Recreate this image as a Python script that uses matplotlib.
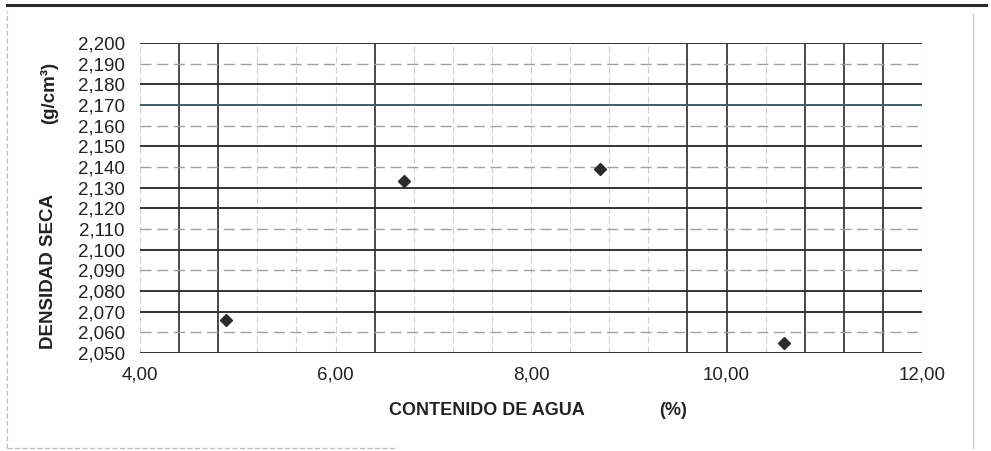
"""Curva de compactación: densidad seca vs contenido de agua."""

import matplotlib.pyplot as plt
import numpy as np
from matplotlib.lines import Line2D
from matplotlib.ticker import FuncFormatter, MultipleLocator

plt.rcParams["font.family"] = ["Liberation Sans", "DejaVu Sans"]

# Datos
contenido_agua = [4.88, 6.70, 8.71, 10.59]          # %
densidad_seca = [2.066, 2.133, 2.139, 2.055]         # g/cm³

x_ticks = [4.0, 6.0, 8.0, 10.0, 12.0]
y_min, y_max, y_step = 2.050, 2.200, 0.010
x_min, x_max, x_grid_step = 4.0, 12.0, 0.4

# líneas de rejilla que en el escaneo salen más marcadas
y_lineas_fuertes = [2.200, 2.180, 2.170, 2.150, 2.130, 2.120, 2.100, 2.080, 2.070, 2.050]
x_lineas_fuertes = [4.4, 4.8, 6.4, 9.6, 10.0, 10.8, 11.2, 11.6]


def coma(v, decimales):
    return f"{v:.{decimales}f}".replace(".", ",")


fig = plt.figure(figsize=(9.91, 4.51), dpi=100)
ax = fig.add_axes([0.1413, 0.2173, 0.7891, 0.6874])

ax.set_xlim(x_min, x_max)
ax.set_ylim(y_min, y_max)

# rejilla vertical cada 0,4
for xv in np.arange(x_min, x_max + 1e-9, x_grid_step):
    fuerte = any(abs(xv - f) < 1e-6 for f in x_lineas_fuertes)
    if fuerte:
        ax.axvline(xv, color="#3a3a3a", lw=1.3, zorder=1)
    else:
        ax.axvline(xv, color="#cfcfcf", lw=0.8, ls=(0, (6, 3)), zorder=1)

# rejilla horizontal cada 0,010
for yv in np.arange(y_min, y_max + 1e-9, y_step):
    fuerte = any(abs(yv - f) < 1e-6 for f in y_lineas_fuertes)
    if abs(yv - 2.170) < 1e-6:
        ax.axhline(yv, color="#3f5f63", lw=1.4, zorder=1)
    elif fuerte:
        ax.axhline(yv, color="#333333", lw=1.4, zorder=1)
    else:
        ax.axhline(yv, color="#a0a0a0", lw=1.0, ls=(0, (8, 4)), zorder=1)

ax.plot(contenido_agua, densidad_seca, ls="none", marker="D", ms=6.5,
        color="#2b2b2b", zorder=3)

ax.set_xticks(x_ticks)
ax.yaxis.set_major_locator(MultipleLocator(y_step))
ax.xaxis.set_major_formatter(FuncFormatter(lambda v, p: coma(v, 2)))
ax.yaxis.set_major_formatter(FuncFormatter(lambda v, p: coma(v, 3)))
ax.tick_params(axis="both", length=0, labelsize=13.5, colors="#222222")
ax.tick_params(axis="y", pad=11)
ax.tick_params(axis="x", pad=10)
for s in ax.spines.values():
    s.set_visible(False)

# títulos de ejes
fig.text(0.0494, 0.397, "DENSIDAD SECA", rotation=90, ha="center", va="center",
         fontsize=13.5, fontweight="bold", color="#222222")
fig.text(0.0494, 0.794, "(g/cm³)", rotation=90, ha="center", va="center",
         fontsize=13.5, fontweight="bold", color="#222222")
fig.text(0.491, 0.0887, "CONTENIDO DE AGUA", ha="center", va="center",
         fontsize=13, fontweight="bold", color="#222222")
fig.text(0.679, 0.0887, "(%)", ha="center", va="center",
         fontsize=13, fontweight="bold", color="#222222")

# marco de la hoja
fig.add_artist(Line2D([0.007, 0.995], [0.989, 0.989], color="#2a2a2a", lw=2.2))
fig.add_artist(Line2D([0.007, 0.007], [0.0067, 0.975], color="#bdbdbd", lw=0.9,
                      ls=(0, (4, 2))))
fig.add_artist(Line2D([0.982, 0.982], [0.0067, 0.97], color="#c8c8c8", lw=0.9))
fig.add_artist(Line2D([0.007, 0.4], [0.0067, 0.0067], color="#bdbdbd", lw=0.9,
                      ls=(0, (4, 2))))

fig.savefig("out.png", dpi=100)
